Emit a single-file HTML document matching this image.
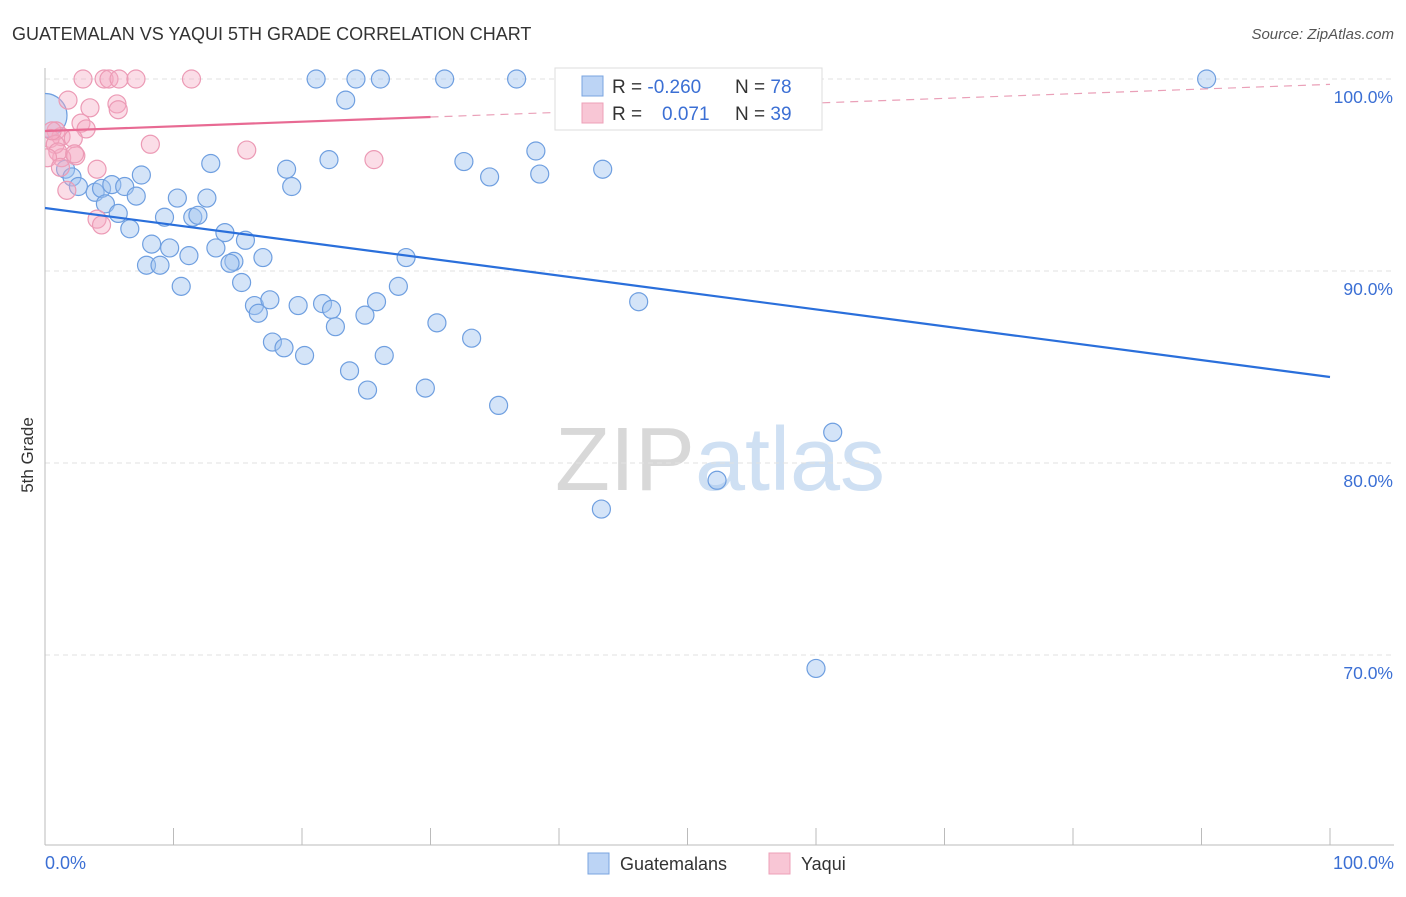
<!DOCTYPE html>
<html><head><meta charset="utf-8"><style>
body{margin:0;background:#fff;font-family:"Liberation Sans",sans-serif;}
svg text{font-family:"Liberation Sans",sans-serif;}
</style></head><body>
<svg id="chart" width="1406" height="892" xmlns="http://www.w3.org/2000/svg">
<defs><clipPath id="plotclip"><rect x="45" y="0" width="1361" height="845"/></clipPath></defs>
<text x="12" y="40" font-size="18" fill="#333">GUATEMALAN VS YAQUI 5TH GRADE CORRELATION CHART</text>
<text x="1394" y="39" font-size="15" fill="#555" font-style="italic" text-anchor="end">Source: ZipAtlas.com</text>
<text x="720" y="490" font-size="90" fill="#ddd" text-anchor="middle" font-family="Liberation Serif"><tspan fill="#d8d8d8">ZIP</tspan><tspan fill="#cfe0f3" font-family="Liberation Sans">atlas</tspan></text>
<g id="grid"></g>
<g id="axes"></g>
<g id="pts" clip-path="url(#plotclip)"></g>
<g id="lines"></g>
<text transform="translate(33,455) rotate(-90)" font-size="17" fill="#333" text-anchor="middle">5th Grade</text>
<text x="45" y="869" font-size="18" fill="#3b6fd4">0.0%</text>
<text x="1394" y="869" font-size="18" fill="#3b6fd4" text-anchor="end">100.0%</text>
<g>
<rect x="555" y="68" width="267" height="62" fill="#fff" stroke="#ddd"/>
<rect x="582" y="76" width="21" height="20" fill="#bcd4f5" stroke="#7aa4e0"/>
<rect x="582" y="103" width="21" height="20" fill="#f8c6d5" stroke="#eea0b8"/>
<text x="612" y="93" font-size="19" fill="#333">R = <tspan fill="#3b6fd4">-0.260</tspan></text>
<text x="735" y="93" font-size="19" fill="#333">N = <tspan fill="#3b6fd4">78</tspan></text>
<text x="612" y="120" font-size="19" fill="#333">R = <tspan fill="#3b6fd4" x="662">0.071</tspan></text>
<text x="735" y="120" font-size="19" fill="#333">N = <tspan fill="#3b6fd4">39</tspan></text>
</g>
<g>
<rect x="588" y="853" width="21" height="21" fill="#bcd4f5" stroke="#7aa4e0"/>
<text x="620" y="870" font-size="18" fill="#333">Guatemalans</text>
<rect x="769" y="853" width="21" height="21" fill="#f8c6d5" stroke="#eea0b8"/>
<text x="801" y="870" font-size="18" fill="#333">Yaqui</text>
</g>
</svg>
<script>
const yTicks=[100,90,80,70];
const yTickLabels=["100.0%","90.0%","80.0%","70.0%"];
const blueX=[21.1,24.2,26.1,31.1,36.7,58.5,90.4,23.4,38.2,22.1,32.6,12.9,18.8,43.4,34.6,38.5,19.2,7.5,1.6,2.1,2.6,3.9,4.4,5.2,6.2,7.1,10.3,12.6,4.7,5.7,9.3,11.5,11.9,6.6,14.0,15.6,8.3,9.7,13.3,11.2,14.7,16.96,28.1,7.9,8.95,14.4,15.3,10.6,27.5,16.3,16.6,17.5,19.7,21.6,22.3,25.8,24.9,22.6,30.5,33.2,46.2,17.7,18.6,20.2,26.4,23.7,25.1,29.6,35.3,61.3,52.3,43.3,60.0,0];
const blueY=[100,100,100,100,100,100,100,98.9,96.25,95.8,95.7,95.6,95.3,95.3,94.9,95.05,94.4,95.0,95.3,94.9,94.4,94.1,94.3,94.5,94.4,93.9,93.8,93.8,93.5,93.0,92.8,92.8,92.9,92.2,92.0,91.6,91.4,91.2,91.2,90.8,90.5,90.7,90.7,90.3,90.3,90.4,89.4,89.2,89.2,88.2,87.8,88.5,88.2,88.3,88.0,88.4,87.7,87.1,87.3,86.5,88.4,86.3,86.0,85.6,85.6,84.8,83.8,83.9,83.0,81.6,79.1,77.6,69.3,98.1];
const blueR=[9,9,9,9,9,9,9,9,9,9,9,9,9,9,9,9,9,9,9,9,9,9,9,9,9,9,9,9,9,9,9,9,9,9,9,9,9,9,9,9,9,9,9,9,9,9,9,9,9,9,9,9,9,9,9,9,9,9,9,9,9,9,9,9,9,9,9,9,9,9,9,9,9,22];
const pinkX=[2.96,4.6,4.98,5.76,7.08,11.4,1.79,3.5,5.6,2.8,3.2,0.86,1.25,5.7,2.2,8.2,15.7,2.4,1.3,2.3,4.05,25.6,1.7,4.05,4.4,0.4,0.8,0.55,1.0,0.2,1.2];
const pinkY=[100,100,100,100,100,100,98.9,98.5,98.7,97.7,97.4,97.3,97.0,98.4,96.9,96.6,96.3,96.0,95.9,96.1,95.3,95.8,94.2,92.7,92.4,96.9,96.6,97.3,96.2,95.9,95.4];
const blueTrend=[93.28,84.48];
const pinkTrend=[97.29,98.02,99.72];
const X0=45,X1=1330;
function xs(v){return X0+(X1-X0)*v/100;}
function ys(v){return 79+(100-v)*19.2;}
const NS="http://www.w3.org/2000/svg";
function mk(t,a,p){const e=document.createElementNS(NS,t);for(const k in a)e.setAttribute(k,a[k]);p.appendChild(e);return e;}
const grid=document.getElementById('grid'),axes=document.getElementById('axes'),pts=document.getElementById('pts'),lines=document.getElementById('lines');
yTicks.forEach((v,i)=>{
 const l=mk('line',{x1:45,x2:1394,y1:ys(v),y2:ys(v),stroke:'#e2e2e2','stroke-dasharray':'5,4'},grid);
 
 
 const t=mk('text',{x:1393,y:ys(v)+24,'font-size':17.5,fill:'#3b6fd4','text-anchor':'end'},grid);
 t.textContent=yTickLabels[i];
 
 
});
const ya=mk('line',{x1:45,x2:45,y1:68,y2:845,stroke:'#bbb'},axes);


const xa=mk('line',{x1:45,x2:1394,y1:845,y2:845,stroke:'#bbb'},axes);


for(let i=1;i<=10;i++){const tk=mk('line',{x1:xs(i*10),x2:xs(i*10),y1:828,y2:845,stroke:'#bbb'},axes);
 
 }
blueX.forEach((v,i)=>{const c=mk('circle',{cx:xs(v),cy:ys(blueY[i]),r:blueR[i],fill:'rgba(160,196,240,0.45)',stroke:'#6f9fe0','stroke-width':1.2},pts);
 
 });
pinkX.forEach((v,i)=>{const c=mk('circle',{cx:xs(v),cy:ys(pinkY[i]),r:9,fill:'rgba(245,170,195,0.4)',stroke:'#ec9ab5','stroke-width':1.2},pts);
 
 });
const bl=mk('line',{x1:xs(0),y1:ys(blueTrend[0]),x2:xs(100),y2:ys(blueTrend[1]),stroke:'#2a6fdb','stroke-width':2.2},lines);


const pl=mk('line',{x1:xs(0),y1:ys(pinkTrend[0]),x2:xs(30),y2:ys(pinkTrend[1]),stroke:'#e86a93','stroke-width':2.2},lines);


const pd=mk('line',{x1:xs(30),y1:ys(pinkTrend[1]),x2:xs(100),y2:ys(pinkTrend[2]),stroke:'#eaa0b8','stroke-width':1.2,'stroke-dasharray':'8,6'},lines);


</script>
</body></html>
